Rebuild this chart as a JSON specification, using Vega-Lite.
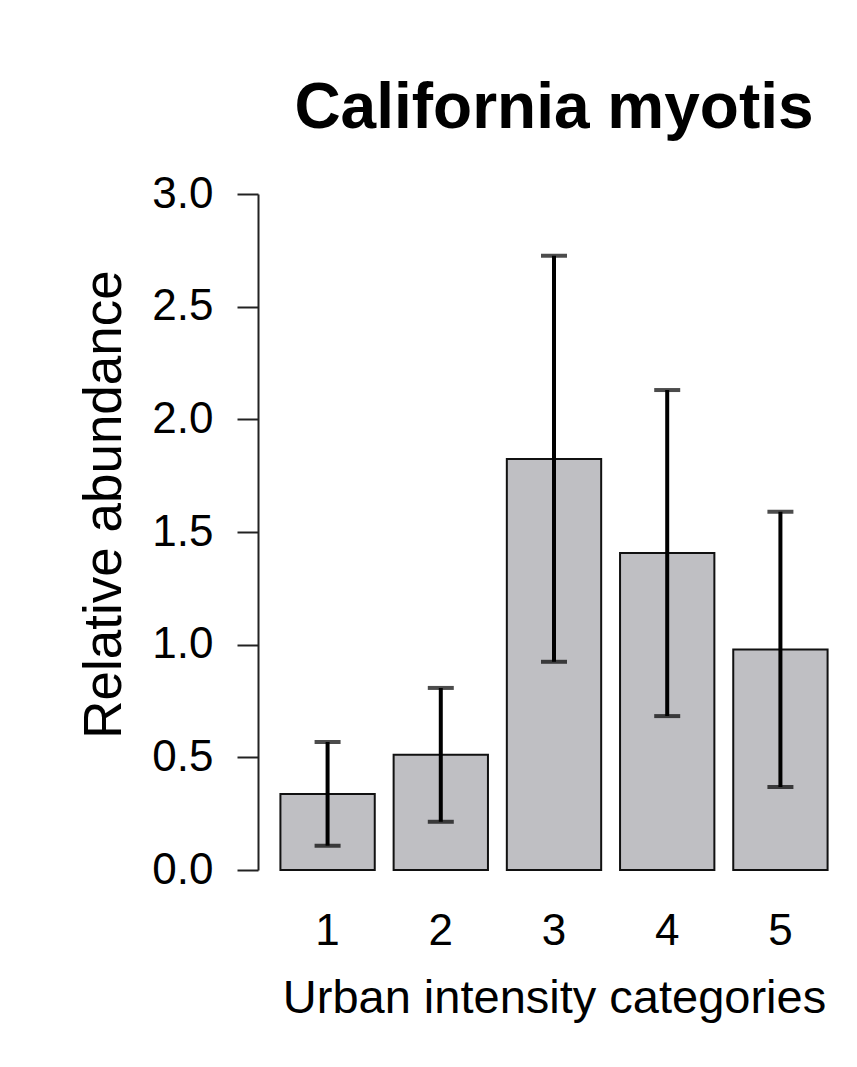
{
  "$schema": "https://vega.github.io/schema/vega-lite/v6.json",
  "autosize": {"type": "none"},
  "padding": {"left": 258, "top": 194, "right": 7, "bottom": 197},
  "width": 592,
  "height": 676,
  "background": "white",
  "title": {
    "text": "California myotis",
    "font": "Liberation Sans",
    "fontSize": 64,
    "fontWeight": "bold",
    "color": "black",
    "anchor": "middle",
    "frame": "group",
    "baseline": "alphabetic",
    "offset": -20
  },
  "data": {
    "values": [
      {"cat": "1", "mean": 0.337, "lo": 0.108, "hi": 0.568},
      {"cat": "2", "mean": 0.512, "lo": 0.214, "hi": 0.808},
      {"cat": "3", "mean": 1.824, "lo": 0.924, "hi": 2.726},
      {"cat": "4", "mean": 1.407, "lo": 0.683, "hi": 2.13},
      {"cat": "5", "mean": 0.979, "lo": 0.368, "hi": 1.59}
    ]
  },
  "encoding": {
    "x": {
      "field": "cat",
      "type": "ordinal",
      "scale": {"paddingInner": 0.1667, "paddingOuter": 0.198},
      "axis": {
        "title": "Urban intensity categories",
        "labelAngle": 0,
        "domain": false,
        "ticks": false,
        "tickSize": 0,
        "labelPadding": 39,
        "labelFont": "Liberation Sans",
        "labelFontSize": 44,
        "labelColor": "black",
        "titleFont": "Liberation Sans",
        "titleFontSize": 47,
        "titleFontWeight": "normal",
        "titleColor": "black",
        "titlePadding": 22
      }
    }
  },
  "layer": [
    {
      "mark": {"type": "bar", "fill": "#bfbfc3", "stroke": "#111111", "strokeWidth": 2},
      "encoding": {
        "y": {
          "field": "mean",
          "type": "quantitative",
          "scale": {"domain": [0, 3], "nice": false, "zero": true},
          "axis": {
            "title": "Relative abundance",
            "values": [0, 0.5, 1, 1.5, 2, 2.5, 3],
            "format": ".1f",
            "grid": false,
            "domainColor": "#222",
            "domainWidth": 2,
            "tickColor": "#222",
            "tickWidth": 2,
            "tickSize": 21,
            "labelPadding": 24,
            "labelFont": "Liberation Sans",
            "labelFontSize": 44,
            "labelColor": "black",
            "titleFont": "Liberation Sans",
            "titleFontSize": 53,
            "titleFontWeight": "normal",
            "titleColor": "black",
            "titlePadding": 20,
            "titleY": 310
          }
        }
      }
    },
    {
      "mark": {"type": "rule", "color": "black", "strokeWidth": 4},
      "encoding": {
        "y": {"field": "lo", "type": "quantitative"},
        "y2": {"field": "hi"}
      }
    },
    {
      "mark": {"type": "tick", "color": "black", "size": 26, "thickness": 4, "orient": "horizontal"},
      "encoding": {"y": {"field": "lo", "type": "quantitative"}}
    },
    {
      "mark": {"type": "tick", "color": "black", "size": 26, "thickness": 4, "orient": "horizontal"},
      "encoding": {"y": {"field": "hi", "type": "quantitative"}}
    }
  ],
  "config": {"view": {"stroke": null}}
}
